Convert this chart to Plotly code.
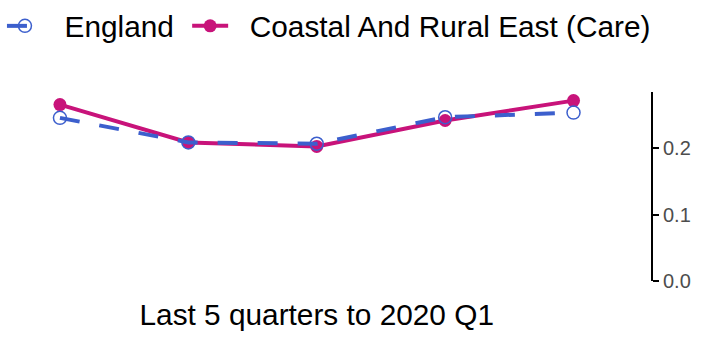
import plotly.graph_objects as go

quarters = ["2019 Q1", "2019 Q2", "2019 Q3", "2019 Q4", "2020 Q1"]
england = [0.246, 0.209, 0.207, 0.247, 0.254]
coastal = [0.266, 0.209, 0.203, 0.242, 0.272]
y_ticks = [0.0, 0.1, 0.2]

BLUE = "#3C5FCD"
MAGENTA = "#C8137A"
FONT = "Liberation Sans, Arial, sans-serif"

fig = go.Figure()
fig.add_trace(go.Scatter(
    x=list(range(len(quarters))), y=coastal,
    name="&nbsp;&nbsp;Coastal And Rural East (Care)",
    mode="lines+markers", line=dict(color=MAGENTA, width=4),
    marker=dict(symbol="circle", size=13, color=MAGENTA), legendrank=2,
))
fig.add_trace(go.Scatter(
    x=list(range(len(quarters))), y=england, name="&nbsp;&nbsp;England&nbsp;",
    mode="lines+markers", line=dict(color=BLUE, width=4, dash="20px,20px"),
    marker=dict(symbol="circle-open", size=13, color=BLUE, line=dict(width=1.5)),
    legendrank=1,
))

fig.update_layout(
    width=702, height=339,
    margin=dict(l=0, r=50, t=90, b=58),
    paper_bgcolor="white", plot_bgcolor="white",
    font=dict(family=FONT, color="black"),
    legend=dict(orientation="h", x=0.003, xanchor="left", y=1.351, yanchor="middle",
                itemwidth=36,
                font=dict(size=29.8, color="black"), bgcolor="rgba(0,0,0,0)"),
    xaxis=dict(domain=[0, 0.9716], range=[-0.467, 4.467], showticklabels=False,
               showgrid=False, zeroline=False, showline=False, ticks="",
               title=dict(text="Last 5 quarters to 2020 Q1", font=dict(size=29.8, color="black"),
                          standoff=23)),
    yaxis=dict(anchor="free", position=1, side="right", range=[0, 0.285],
               tickvals=y_ticks, ticktext=[f"{v:.1f}" for v in y_ticks],
               showgrid=False, zeroline=False, showline=True, linecolor="black", linewidth=2,
               ticks="outside", ticklen=6, tickwidth=2, tickcolor="black",
               tickfont=dict(size=20, color="#4D4D4D")),
    showlegend=True,
)
fig.write_html("out.html", config={"displayModeBar": False},
               post_script="document.body.style.margin='0';")
